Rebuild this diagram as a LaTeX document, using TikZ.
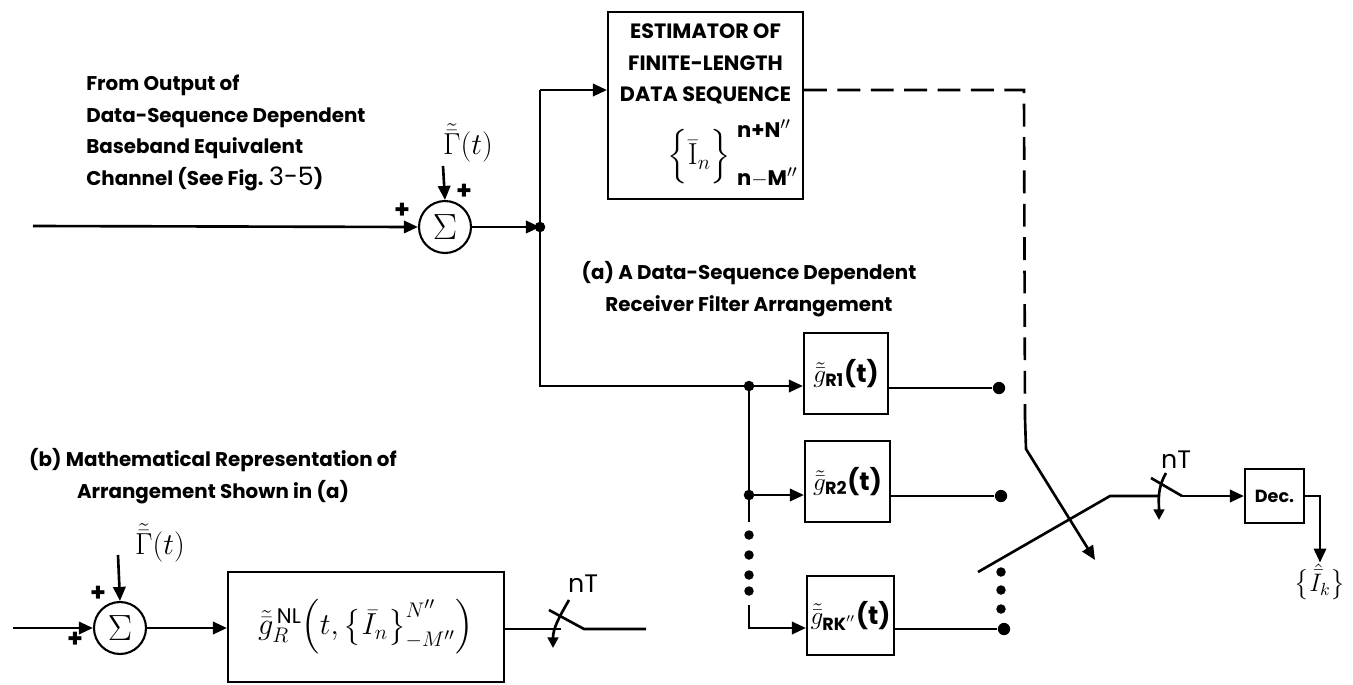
\documentclass[tikz,border=0pt]{standalone}
\usepackage{amsmath}
\usepackage{fontspec}
\setsansfont{Poppins}
\usepackage{tikz}
\usetikzlibrary{arrows.meta, positioning, calc}

\tikzset{
  blk/.style={draw, line width=1.2pt, inner sep=2pt},
  summ/.style={draw, circle, minimum size=1.04cm, inner sep=0pt, line width=1.2pt, font=\huge},
  lbl/.style={font=\sffamily\bfseries\fontsize{11.3}{18}\selectfont, inner sep=0pt},
  plus/.style={font=\sffamily\bfseries\Large, inner sep=0pt},
  filt/.style={blk, font=\sffamily\bfseries\Large},
  sig/.style={-{Triangle[length=8pt,width=7pt]}},
  tap/.style={circle, fill, inner sep=0pt, minimum size=7pt},
  selDash/.style={dash pattern=on 13pt off 6pt},
}

\begin{document}
\begin{tikzpicture}[x=0.02cm, y=-0.02cm, line width=1.5pt]
\useasboundingbox (0,0) rectangle (1353,684);

% (a) receiver arrangement
        \node[lbl, align=left, anchor=west] (srcLbl) at (85,133)
            {From Output of\\Data-Sequence Dependent\\Baseband Equivalent\\Channel (See Fig. {\mdseries\Large 3-5})};
        \node[summ] (sumA) at (445,227) {$\Sigma$};
        \node[font=\LARGE, inner sep=0pt] (gamA) at (468,143) {$\tilde{\bar{\Gamma}}(t)$};
        \node[plus] (pA1) at (402,211) {+};
        \node[plus] (pA2) at (464,192) {+};
        \coordinate (inA) at (33,226);
        \coordinate (gA) at (443,166);

        \node[blk, minimum width=3.9cm, minimum height=3.74cm, align=center,
              font=\sffamily\bfseries\fontsize{11.8}{18}\selectfont] (est) at (705.5,105.5)
            {ESTIMATOR OF\\FINITE-LENGTH\\DATA SEQUENCE\\[8pt]
             \hspace*{1.1cm}{\LARGE$\Bigl\{\bar{\mathrm{I}}_{n}\Bigr\}^{\;\text{n+N}''}_{\;\text{n}-\text{M}''}$}};

        \node[lbl, align=center] (capA) at (749,289)
            {(a) A Data-Sequence Dependent\\Receiver Filter Arrangement};

        \node[filt, minimum width=1.68cm, minimum height=1.62cm] (gR1) at (846,373.5) {$\tilde{\bar{g}}_{\text{R1}}$(t)};
        \node[filt, minimum width=1.70cm, minimum height=1.62cm] (gR2) at (847.5,481.5) {$\tilde{\bar{g}}_{\text{R2}}$(t)};
        \node[filt, minimum width=1.74cm, minimum height=1.58cm] (gRK) at (850.5,615.5) {$\tilde{\bar{g}}_{\text{RK}''}$(t)};

        \coordinate (jIn) at (540,227);
        \coordinate (jTop) at (540,90);
        \coordinate (jLow) at (540,386);
        \coordinate (jF1) at (749,386);
        \coordinate (jF2) at (749,495);
        \coordinate (jDots) at (749,522);
        \coordinate (jFK0) at (749,605);
        \coordinate (jFK) at (749,628);

        \node[tap] (t1) at (999,388) {};
        \node[tap] (t2) at (1001,496) {};
        \node[tap] (tK) at (1004,629) {};

        \coordinate (cSel) at (1024,90);
        \coordinate (cDash) at (1025,418);
        \coordinate (cBend) at (1026,449);
        \coordinate (cTip) at (1095,560);
        \coordinate (armTip) at (978,572);
        \coordinate (armKnee) at (1110,496);
        \coordinate (swA) at (1160,496);
        \coordinate (swB) at (1182,496);

        \node[font=\sffamily\Large, inner sep=0pt] (nTa) at (1176,460) {nT};
        \node[blk, minimum width=1.18cm, minimum height=1.08cm, font=\sffamily\bfseries] (dec) at (1274.5,496) {Dec.};
        \node[font=\Large, inner sep=0pt] (outI) at (1320,582) {$\bigl\{\hat{\bar{I}}_k\bigr\}$};

% (b) mathematical representation
        \node[lbl, align=center] (capB) at (213,476)
            {(b) Mathematical Representation of\\Arrangement Shown in (a)};
        \node[summ] (sumB) at (120,628) {$\Sigma$};
        \node[font=\LARGE, inner sep=0pt] (gamB) at (160,543) {$\tilde{\bar{\Gamma}}(t)$};
        \node[plus] (pB1) at (98,594) {+};
        \node[plus] (pB2) at (75,640) {+};
        \coordinate (inB) at (13,628);
        \coordinate (gB) at (118,555);

        \node[blk, minimum width=5.52cm, minimum height=2.2cm, font=\LARGE] (gNL) at (366,627)
            {$\tilde{\bar{g}}^{\,\text{\sffamily NL}}_{R}\Bigl(t,\bigl\{\bar{I}_n\bigr\}^{N''}_{-M''}\Bigr)$};
        \coordinate (swC) at (561,629);
        \coordinate (swD) at (584,629);
        \coordinate (outB) at (646,629);
        \node[font=\sffamily\Large, inner sep=0pt] (nTb) at (583,584) {nT};

% connectors (a)
        \draw[sig] (inA) -- (sumA.west);
        \draw[sig] (gA) -- (sumA.north);
        \draw[sig] (sumA.east) -- (jIn);
        \fill (jIn) circle (3pt);
        \draw (jTop) -- (jLow) -- (jF1);
        \draw[sig] (jTop) -- (est.west |- jTop);
        \fill (jF1) circle (3pt);
        \fill (jF2) circle (3pt);
        \draw[sig] (jF1) -- (gR1.west |- jF1);
        \draw[sig] (jF2) -- (gR2.west |- jF2);
        \draw (jF1) -- (jDots);
        \foreach \y in {535,555,575,591}
            \fill (749,\y) circle (2.7pt);
        \draw[sig] (jFK0) |- (gRK.west |- jFK);
        \draw (gR1.east |- t1) -- (t1);
        \draw (gR2.east |- t2) -- (t2);
        \draw (gRK.east |- tK) -- (tK);
        \foreach \y in {572,590,609}
            \fill (1001,\y) circle (2.7pt);
        % selector
        \draw[selDash] (jTop -| est.east) -- (cSel) -- (cDash);
        \draw[sig] (cDash) -- (cBend) -- (cTip);
        \draw (armTip) -- (armKnee) -- (swA);
        \draw (1151,478) -- (swB);
        \draw[-{Triangle[length=6pt,width=6pt]}] (1166,473) to[out=240, in=90] (1159,520);
        \draw[sig] (swB) -- (dec.west);
        \draw[sig] (dec.east) -| (outI.north);

% connectors (b)
        \draw[sig] (inB) -- (sumB.west);
        \draw[sig] (gB) -- (sumB.north);
        \draw[sig] (sumB.east) -- (gNL.west |- sumB);
        \draw (gNL.east |- swC) -- (swC);
        \draw (549,610) -- (swD) -- (outB);
        \draw[-{Triangle[length=6pt,width=6pt]}] (569,600) to[out=240, in=90] (553,648);
\end{tikzpicture}
\end{document}
